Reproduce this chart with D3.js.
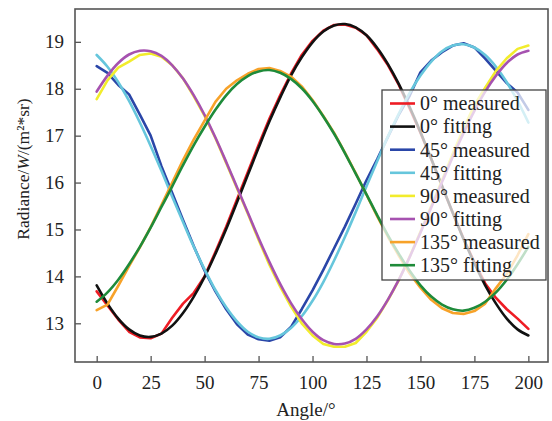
<!DOCTYPE html>
<html>
<head>
<meta charset="utf-8">
<script src="https://cdn.jsdelivr.net/npm/d3@7"></script>
<style>
  html, body { margin: 0; padding: 0; background: #fff; }
  svg { display: block; }
</style>
</head>
<body>
<svg id="chart" width="552" height="421"></svg>
<script>
// ---- Data ----
const angles = [0,5,10,15,20,25,30,35,40,45,50,55,60,65,70,75,80,85,90,95,100,
                105,110,115,120,125,130,135,140,145,150,155,160,165,170,175,180,185,190,195,200];

const meas0 = [13.68,13.38,13.08,12.82,12.70,12.68,12.78,13.12,13.42,13.65,14.00,14.52,15.06,15.64,16.22,16.80,17.36,17.86,18.32,18.72,19.02,
               19.24,19.36,19.37,19.30,19.14,18.84,18.50,18.08,17.58,17.06,16.50,15.92,15.35,14.80,14.30,13.85,13.54,13.30,13.10,12.88];
const fit0  = [13.81,13.42,13.10,12.87,12.74,12.71,12.78,12.95,13.22,13.57,13.99,14.48,15.01,15.58,16.16,16.74,17.30,17.81,18.28,18.67,18.99,
               19.22,19.35,19.38,19.31,19.14,18.87,18.52,18.10,17.61,17.08,16.51,15.93,15.35,14.79,14.28,13.81,13.42,13.10,12.87,12.74];
const meas45 = [18.48,18.34,18.08,17.88,17.45,17.00,16.35,15.78,15.20,14.64,14.12,13.68,13.30,12.98,12.76,12.66,12.63,12.70,12.92,13.30,13.70,
                14.14,14.60,15.06,15.55,16.05,16.50,16.98,17.45,17.85,18.35,18.60,18.78,18.92,18.97,18.88,18.64,18.38,18.12,17.92,17.55];
const fit45  = [18.72,18.47,18.14,17.74,17.28,16.78,16.25,15.70,15.16,14.63,14.15,13.71,13.34,13.04,12.82,12.70,12.67,12.74,12.90,13.15,13.48,
                13.88,14.34,14.84,15.37,15.92,16.46,16.99,17.47,17.91,18.28,18.58,18.80,18.92,18.95,18.88,18.72,18.47,18.14,17.74,17.28];
const meas90 = [17.78,18.18,18.45,18.58,18.72,18.75,18.68,18.50,18.22,17.84,17.42,16.95,16.42,15.88,15.34,14.78,14.25,13.78,13.36,13.00,12.74,
                12.56,12.50,12.50,12.58,12.82,13.12,13.50,13.92,14.42,14.95,15.50,16.05,16.62,17.15,17.65,18.02,18.38,18.65,18.85,18.92];
const fit90  = [17.94,18.28,18.55,18.73,18.81,18.80,18.70,18.50,18.22,17.86,17.44,16.96,16.44,15.90,15.36,14.82,14.31,13.84,13.43,13.09,12.82,
                12.64,12.56,12.57,12.67,12.87,13.15,13.51,13.93,14.41,14.93,15.47,16.01,16.55,17.06,17.53,17.94,18.28,18.55,18.73,18.81];
const meas135 = [13.28,13.40,13.80,14.22,14.62,15.05,15.52,16.00,16.48,16.92,17.32,17.72,18.00,18.18,18.32,18.42,18.44,18.38,18.26,18.05,17.76,
                 17.42,17.06,16.64,16.20,15.74,15.28,14.84,14.44,14.06,13.76,13.50,13.32,13.22,13.20,13.26,13.42,13.75,14.05,14.45,14.90];
const fit135  = [13.46,13.66,13.93,14.26,14.63,15.04,15.48,15.92,16.37,16.80,17.19,17.55,17.86,18.10,18.27,18.37,18.40,18.34,18.21,18.01,17.74,
                 17.41,17.04,16.63,16.19,15.75,15.30,14.87,14.48,14.12,13.81,13.57,13.40,13.30,13.27,13.33,13.46,13.66,13.93,14.26,14.63];

const seriesNames = ["0° measured","0° fitting","45° measured","45° fitting",
                     "90° measured","90° fitting","135° measured","135° fitting"];
const seriesValues = [meas0, fit0, meas45, fit45, meas90, fit90, meas135, fit135];
const seriesColors = ["#ee1c24","#111111","#2a46a8","#66c6dc","#f2ec2c","#a652b0","#f7a229","#1e8b3a"];
const seriesFitted = [false,true,false,true,false,true,false,true];

const xTicks = [0,25,50,75,100,125,150,175,200];
const yTicks = [13,14,15,16,17,18,19];

// ---- Layout ----
const FONT = '"Liberation Serif", "Times New Roman", Times, serif';
const svg = d3.select("#chart");
const L = 75, R = 548, T = 9, B = 362;
const x = d3.scaleLinear().domain([-10.05, 209.1]).range([L, R]);
const y = d3.scaleLinear().domain([12.175, 19.70]).range([B, T]);
const axisColor = "#555";

// Curves
const lineGen = (fitted) => d3.line()
  .x((d, i) => x(angles[i]))
  .y(d => y(d))
  .curve(fitted ? d3.curveCatmullRom : d3.curveLinear);

const g = svg.append("g");
seriesValues.forEach((vals, k) => {
  g.append("path")
    .datum(vals)
    .attr("d", lineGen(seriesFitted[k]))
    .attr("fill", "none")
    .attr("stroke", seriesColors[k])
    .attr("stroke-width", 2.6)
    .attr("stroke-linejoin", "round")
    .attr("stroke-linecap", "round");
});

// Axes (inward ticks) with frame
const xAxis = d3.axisBottom(x).tickValues(xTicks).tickSizeInner(-6).tickSizeOuter(0).tickPadding(14);
const yAxis = d3.axisLeft(y).tickValues(yTicks).tickSizeInner(-6).tickSizeOuter(0).tickPadding(11);

const gx = svg.append("g").attr("transform", `translate(0,${B})`).call(xAxis);
const gy = svg.append("g").attr("transform", `translate(${L},0)`).call(yAxis);
[gx, gy].forEach(ax => {
  ax.attr("font-family", null).attr("font-size", null);
  ax.select(".domain").remove();
  ax.selectAll(".tick line").attr("stroke", axisColor).attr("stroke-width", 1.3);
  ax.selectAll(".tick text")
    .style("font-family", FONT)
    .style("font-size", "19px")
    .attr("fill", "#222");
});

svg.append("rect")
  .attr("x", L).attr("y", T).attr("width", R - L).attr("height", B - T)
  .attr("fill", "none").attr("stroke", axisColor).attr("stroke-width", 1.6);

// Axis titles
svg.append("text")
  .attr("x", 306).attr("y", 416)
  .attr("text-anchor", "middle")
  .style("font-family", FONT).style("font-size", "19px")
  .attr("fill", "#222")
  .text("Angle/°");

const yt = svg.append("text")
  .attr("transform", "translate(29,169) rotate(-90)")
  .attr("text-anchor", "middle")
  .style("font-family", FONT).style("font-size", "17.5px")
  .attr("fill", "#222");
yt.append("tspan").text("Radiance/");
yt.append("tspan").style("font-style", "italic").text("W");
yt.append("tspan").text("/(m²*sr)");

// Legend
const lg = svg.append("g");
lg.append("rect")
  .attr("x", 382).attr("y", 90).attr("width", 164).attr("height", 190)
  .attr("fill", "#fff").attr("fill-opacity", 0.72)
  .attr("stroke", "#444").attr("stroke-width", 1.3);
seriesNames.forEach((name, k) => {
  const cy = 103.5 + k * 23.1;
  lg.append("line")
    .attr("x1", 390).attr("x2", 415).attr("y1", cy).attr("y2", cy)
    .attr("stroke", seriesColors[k]).attr("stroke-width", 2.6);
  lg.append("text")
    .attr("x", 420).attr("y", cy + 6.8)
    .style("font-family", FONT).style("font-size", "20px")
    .attr("fill", "#222")
    .text(name);
});
</script>
</body>
</html>
